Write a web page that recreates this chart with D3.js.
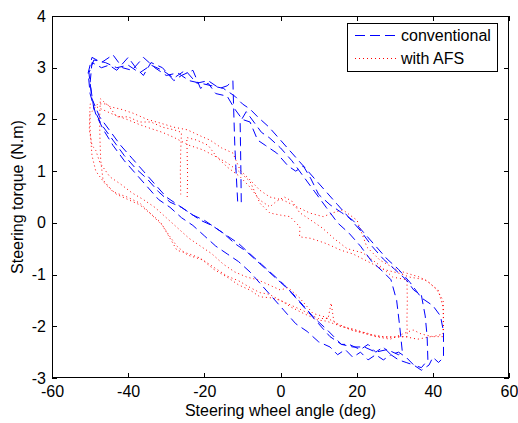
<!DOCTYPE html>
<html>
<head>
<meta charset="utf-8">
<script src="https://cdn.jsdelivr.net/npm/d3@7"></script>
<style>
  body { margin: 0; background: #fff; }
  svg { display: block; }
  text { font-family: "Liberation Sans", Arial, sans-serif; fill: #000; }
</style>
</head>
<body>
<svg id="chart" width="518" height="423"></svg>
<script>
// ---------- data ----------
const xTicks = [-60, -40, -20, 0, 20, 40, 60];
const yTicks = [-3, -2, -1, 0, 1, 2, 3, 4];
const seriesNames = ["conventional", "with AFS"];
const xLabel = "Steering wheel angle (deg)";
const yLabel = "Steering torque (N.m)";

// conventional steering: [angle (deg), torque (N.m)]
const conventional = [
  [-10.3,0.4],[-10.4,1.0],[-10.5,1.5],[-10.6,1.95],
  [-9,2.15],[-7,1.95],[-5,1.75],[-3,1.65],[0,1.45],[3,1.2],[6,0.9],[9,0.6],[12,0.3],[15,0.0],[18,-0.2],[21,-0.45],[24,-0.75],[27,-0.95],[29,-1.1],[30.5,-1.5],[31.3,-2.0],[32,-2.5],
  [31,-2.55],[28,-2.45],[25,-2.5],[22,-2.4],[19,-2.4],[16,-2.35],[13,-2.2],[10,-1.95],[7,-1.7],[4,-1.45],[1,-1.2],[-2,-1.0],[-5,-0.8],[-8,-0.6],[-11,-0.4],[-14,-0.25],[-17,-0.1],[-20,0.05],[-23,0.15],[-26,0.3],[-29,0.4],[-32,0.6],[-35,0.85],[-38,1.05],[-41,1.3],[-44,1.6],[-47,1.9],[-49,2.2],[-50,2.7],
  [-49.5,3.1],[-47,3.0],[-45,3.05],[-43,2.95],[-40,3.2],[-38,3.0],[-36,2.85],[-34,3.1],[-31,3.0],[-28,2.75],[-26,2.85],[-23,2.95],[-21,2.6],[-19,2.7],[-17,2.5],[-14,2.45],[-12,2.2],[-10,2.0],[-8,1.95],[-6,1.6],[-4,1.5],[-1,1.35],[2,1.1],[4,1.0],[6,1.1],[8,0.85],[10,0.55],[13,0.35],[16,0.2],[19,0.05],[22,-0.2],[25,-0.45],[28,-0.7],[31,-0.9],[34,-1.15],[37,-1.45],[40,-1.6],[42,-1.8],[42.8,-2.1],[42.8,-2.6],
  [41.5,-2.7],[40,-2.6],[39,-2.75],[37,-2.85],[35,-2.75],[33,-2.7],[31,-2.65],[29,-2.55],[27,-2.65],[25,-2.55],[23,-2.65],[21,-2.5],[19,-2.6],[17,-2.45],[15,-2.55],[13,-2.4],[10,-2.3],[7,-2.1],[4,-1.95],[1,-1.7],[-2,-1.45],[-5,-1.2],[-8,-0.95],[-11,-0.75],[-14,-0.6],[-17,-0.45],[-20,-0.25],[-23,-0.05],[-26,0.1],[-29,0.3],[-32,0.45],[-35,0.7],[-38,0.95],[-41,1.2],[-44,1.5],[-46.5,1.8],[-48.5,2.1],[-50,2.5],[-50.5,2.9],
  [-49.5,3.2],[-47,3.1],[-44,3.25],[-41.5,3.0],[-39,2.95],[-36,3.2],[-33,3.0],[-30,2.85],[-27,2.9],[-24,2.75],[-21,2.7],[-18,2.65],[-15,2.6],[-12,2.45],[-10,2.3],[-8,2.2],[-6,2.05],[-3,1.85],[0,1.6],[3,1.35],[6,1.1],[9,0.85],[12,0.6],[15,0.35],[18,0.1],[21,-0.15],[24,-0.45],[27,-0.7],[30,-0.9],[33,-1.1],[35,-1.3],[37,-1.4],[38,-1.8],[38.5,-2.2],[38.7,-2.65],
  [37,-2.8],[35,-2.75],[33,-2.6],[31,-2.5],[29,-2.55],[27,-2.4],[25,-2.5],[23,-2.35],[21,-2.45],[18,-2.35],[16,-2.35],[14,-2.2],[12,-2.05],[9,-1.85],[6,-1.6],[3,-1.35],[0,-1.15],[-3,-0.95],[-6,-0.75],[-9,-0.55],[-12,-0.4],[-15,-0.2],[-18,-0.05],[-21,0.05],[-24,0.2],[-27,0.35],[-30,0.5],[-33,0.75],[-36,1.0],[-39,1.25],[-42,1.5],[-45,1.8],[-47.5,2.05],[-49.5,2.4],[-50.3,2.9],
  [-49,3.15],[-46,3.1],[-43,3.0],[-40,3.05],[-37,2.9],[-34,3.05],[-31,2.95],[-28,2.8],[-25,2.95],[-22,2.7],[-19,2.75],[-16,2.6],[-14,2.65],[-12.5,2.75],[-12.3,2.2],[-12,1.5],[-11.6,0.9],[-11.2,0.35]
];

// with AFS: [angle (deg), torque (N.m)]
const withAFS = [
  [-24.5,0.5],[-24.4,0.9],[-24.5,1.3],[-24.6,1.65],
  [-22,1.6],[-19,1.5],[-16.7,1.27],[-14,1.08],[-10.6,0.89],[-8,0.69],[-5.4,0.44],[-2.8,0.31],[-1,0.42],[1,0.5],[3,0.42],[5,0.2],[8,0.05],[11,-0.1],[14,-0.3],[17.5,-0.5],[21.6,-0.58],[25.3,-0.78],[29.5,-1.05],[33.2,-1.1],[33.3,-1.5],[33.2,-1.9],[33.3,-2.2],
  [30,-2.2],[27,-2.2],[23,-2.15],[19,-2.05],[15.6,-2.0],[14,-1.9],[13.3,-1.55],[12.5,-1.85],[10,-1.85],[8.5,-1.8],[6,-1.7],[3,-1.6],[0,-1.5],[-3,-1.38],[-5.4,-1.35],[-8,-1.25],[-11,-1.12],[-14,-1.03],[-17.7,-0.85],[-20.3,-0.72],[-24.5,-0.62],[-27.2,-0.45],[-29,-0.27],[-31.6,0.02],[-34.3,0.19],[-36.9,0.38],[-40.3,0.5],[-44,0.6],[-46.6,0.83],[-47.2,1.2],[-47.4,1.6],[-47.5,2.0],[-47.3,2.4],
  [-45,2.25],[-42,2.2],[-38.7,2.12],[-35,2.0],[-31.6,1.93],[-28,1.85],[-24.5,1.8],[-21,1.68],[-18.5,1.6],[-15.5,1.45],[-12.5,1.35],[-10.6,1.02],[-8,0.83],[-5.4,0.63],[-2.8,0.5],[0.7,0.44],[4.3,0.31],[7.7,0.19],[11.2,0.12],[14,0.2],[16.4,0.25],[20.1,0.05],[22.7,-0.47],[26.1,-0.72],[30.6,-0.91],[33,-0.97],[36.6,-1.05],[39,-1.15],[41.1,-1.3],[42.7,-1.5],[42.8,-1.8],[42.7,-2.15],
  [40,-2.2],[37,-2.15],[34.8,-2.07],[32,-2.15],[28.8,-2.25],[25,-2.2],[22.7,-2.13],[18.5,-2.07],[15,-1.95],[11.7,-1.82],[8.5,-1.75],[5,-1.45],[2,-1.25],[0,-1.3],[-3,-1.2],[-6,-1.1],[-8.8,-1.05],[-12,-0.95],[-15,-0.8],[-18,-0.6],[-21,-0.45],[-24,-0.3],[-27,-0.1],[-30,0.1],[-33,0.3],[-36,0.45],[-39,0.58],[-42,0.75],[-44.8,0.89],[-47.4,1.16],[-48.5,1.4],[-49.5,1.5],[-50.2,1.8],[-50,2.3],
  [-47,2.2],[-44,2.1],[-40.3,2.0],[-37,1.9],[-34.3,1.83],[-31,1.75],[-28.2,1.66],[-24,1.5],[-20.3,1.41],[-17,1.28],[-14,1.16],[-11,1.0],[-8,0.8],[-5.4,0.38],[-2.8,0.19],[0,0.15],[2.5,0.12],[5.1,-0.08],[5,-0.27],[8,-0.3],[12,-0.4],[15.9,-0.53],[19,-0.6],[23.8,-0.78],[27,-0.9],[30.9,-0.97],[34,-1.05],[38,-1.1],[41.4,-1.3],[42.7,-1.63],[42.8,-2.0],[42.7,-2.2],
  [39.5,-2.2],[36,-2.25],[32.7,-2.2],[29,-2.22],[27.4,-2.21],[24,-2.18],[20,-2.1],[16,-2.0],[12,-1.9],[9.9,-1.88],[6,-1.75],[2.8,-1.63],[0,-1.5],[-2.5,-1.45],[-5.4,-1.43],[-8,-1.3],[-11,-1.2],[-14,-1.05],[-17.5,-0.9],[-21.1,-0.68],[-24,-0.6],[-27.2,-0.53],[-29,-0.3],[-31,-0.05],[-34.3,0.19],[-37,0.35],[-40,0.45],[-43,0.55],[-46,0.75],[-48.5,1.0],[-49.5,1.3],[-50,1.8],[-50,2.1],
  [-48,2.3],[-45.5,2.3],[-43,2.05],[-40,2.05],[-37,1.95],[-34,1.95],[-31,1.85],[-28,1.8],[-26,1.75],[-26.2,1.4],[-26.3,1.0],[-26.2,0.55]
];

// ---------- layout ----------
const plot = { left: 52, right: 509, top: 16, bottom: 378 };
const FONT = 16;

const svg = d3.select("#chart");
const x = d3.scaleLinear().domain([-60, 60]).range([plot.left, plot.right]);
const y = d3.scaleLinear().domain([-3, 4]).range([plot.bottom, plot.top]);

svg.append("rect").attr("x", plot.left).attr("y", plot.top)
  .attr("width", plot.right - plot.left).attr("height", plot.bottom - plot.top)
  .attr("fill", "#fff");

const line = d3.line().x(d => x(d[0])).y(d => y(d[1]));

svg.append("path").datum(withAFS)
  .attr("d", line).attr("fill", "none")
  .attr("stroke", "#ff0000").attr("stroke-width", 1)
  .attr("stroke-dasharray", "1,3");

svg.append("path").datum(conventional)
  .attr("d", line).attr("fill", "none")
  .attr("stroke", "#0000ff").attr("stroke-width", 1)
  .attr("stroke-dasharray", "9,5");

// axes
const fmt = d => String(d);
function styleAxis(g) {
  g.select(".domain").remove();
  g.selectAll(".tick line").attr("stroke", "#000").attr("shape-rendering", "crispEdges");
  g.selectAll(".tick text").attr("font-size", FONT)
    .attr("font-family", "'Liberation Sans', Arial, sans-serif").attr("fill", "#000");
}
svg.append("g").attr("transform", `translate(0,${plot.bottom})`)
  .call(d3.axisBottom(x).tickValues(xTicks).tickSize(-5).tickPadding(8).tickFormat(fmt))
  .call(styleAxis);
svg.append("g").attr("transform", `translate(0,${plot.top})`)
  .call(d3.axisTop(x).tickValues(xTicks).tickSize(-5).tickFormat(""))
  .call(styleAxis);
svg.append("g").attr("transform", `translate(${plot.left},0)`)
  .call(d3.axisLeft(y).tickValues(yTicks).tickSize(-5).tickPadding(6).tickFormat(fmt))
  .call(styleAxis);
svg.append("g").attr("transform", `translate(${plot.right},0)`)
  .call(d3.axisRight(y).tickValues(yTicks).tickSize(-5).tickFormat(""))
  .call(styleAxis);

// frame
svg.append("rect").attr("x", plot.left + 0.5).attr("y", plot.top + 0.5)
  .attr("width", plot.right - plot.left - 1).attr("height", plot.bottom - plot.top - 1)
  .attr("fill", "none").attr("stroke", "#000").attr("stroke-width", 1);

// axis titles
svg.append("text").attr("x", (plot.left + plot.right) / 2).attr("y", 416)
  .attr("text-anchor", "middle").attr("font-size", FONT).text(xLabel);
svg.append("text").attr("transform", `translate(23,${(plot.top + plot.bottom) / 2}) rotate(-90)`)
  .attr("text-anchor", "middle").attr("font-size", FONT).text(yLabel);

// legend
const leg = svg.append("g");
leg.append("rect").attr("x", 347.5).attr("y", 23.5).attr("width", 150).attr("height", 48)
  .attr("fill", "#fff").attr("stroke", "#000").attr("stroke-width", 1);
const legStyles = [
  { color: "#0000ff", dash: "10,5" },
  { color: "#ff0000", dash: "1,3" }
];
seriesNames.forEach((name, i) => {
  const ly = 35 + i * 23;
  leg.append("line").attr("x1", 355).attr("x2", 398).attr("y1", ly + 0.5).attr("y2", ly + 0.5)
    .attr("stroke", legStyles[i].color).attr("stroke-width", 1)
    .attr("stroke-dasharray", legStyles[i].dash);
  leg.append("text").attr("x", 401).attr("y", ly + 6).attr("font-size", FONT).text(name);
});
</script>
</body>
</html>
